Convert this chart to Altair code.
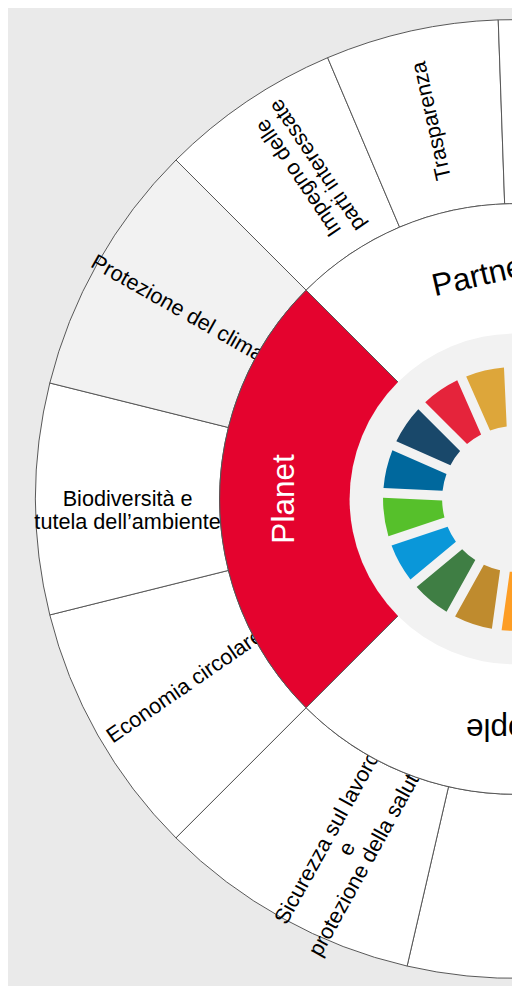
import math
import altair as alt
import pandas as pd

# ---------------- data ----------------
pillar_names = ["Planet", "Partnership", "Prosperity", "Peace", "People"]
pillar_spans = [90, 88, 47, 45, 90]          # degrees of the wheel

topic_labels = [
    "Economia circolare",
    "Biodiversità e\ntutela dell’ambiente",
    "Protezione del clima",
    "Impegno delle\nparti interessate",
    "Trasparenza",
    "Compliance e\nanticorruzione",
    "Creazione di\nvalore",
    "Innovazione",
    "Etica e\nintegrità",
    "Diritti umani",
    "Diversità e\ninclusione",
    "Sicurezza sul lavoro\ne\nprotezione della salute",
]
topic_parent = ["Planet", "Planet", "Planet",
                "Partnership", "Partnership", "Partnership",
                "Prosperity", "Prosperity",
                "Peace", "Peace",
                "People", "People"]
topic_spans = [31, 28, 31, 22, 21, 45, 23.5, 23.5, 22.5, 22.5, 58, 32]

sdg_goals = list(range(1, 18))
sdg_colors = ["#E5243B", "#DDA63A", "#4C9F38", "#C5192D", "#FF3A21", "#26BDE2",
              "#FCC30B", "#A21942", "#FD6925", "#DD1367", "#FD9D24", "#BF8B2E",
              "#3F7E44", "#0A97D9", "#56C02B", "#00689D", "#19486A"]

# ---------------- layout ----------------
START = 225.0          # wheel starts at the Planet / People boundary
W, H = 512, 978
CX, CY = 515, 491
R_OUT, R_MID, R_IN, R_DISC = 487, 300, 150, 168
SDG_R1, SDG_R0 = 134, 74
SDG_START = 315.0
MID_LABEL_TILT = {"Partnership": -12}          # extra label rotation (style)
OUTER_LABEL_TILT = {"Economia circolare": -5}  # extra label rotation (style)
OUTER_LABEL_SHIFT = {"Economia circolare": -8}  # radial nudge (style)


def spans_to_angles(spans, start):
    a0, a1, acc = [], [], start
    for s in spans:
        a0.append(acc)
        acc += s
        a1.append(acc)
    return a0, a1


def lookup_expr(field, mapping):
    parts = [f"datum.{field} === '{k}' ? {v}" for k, v in mapping.items()]
    return "(" + " : ".join(parts + ["0"]) + ")"


p0, p1 = spans_to_angles(pillar_spans, START)
pillars = pd.DataFrame({"pillar": pillar_names, "a0": p0, "a1": p1})

t0, t1 = spans_to_angles(topic_spans, START)
topics = pd.DataFrame({"topic": topic_labels, "parent": topic_parent, "a0": t0, "a1": t1})

step = 360 / len(sdg_goals)
s0 = [SDG_START + i * step for i in range(len(sdg_goals))]
sdg = pd.DataFrame({"goal": sdg_goals, "a0": s0, "a1": [a + step for a in s0]})

rad = "datum.a0 * PI / 180"
rad2 = "datum.a1 * PI / 180"
mid = "(((datum.a0 + datum.a1) / 2) % 360)"

theta = alt.Theta("t0:Q", scale=None)
theta2 = alt.Theta2("t1:Q")
cx = alt.value(CX)
cy = alt.value(CY)
STROKE = "#555555"
FONT = "Liberation Sans"

outer_ring = alt.Chart(topics).transform_calculate(t0=rad, t1=rad2).mark_arc(
    radius=R_OUT, radius2=R_MID, stroke=STROKE, strokeWidth=1
).encode(
    theta=theta, theta2=theta2, x=cx, y=cy,
    fill=alt.condition(alt.datum.topic == "Protezione del clima",
                       alt.value("#F2F2F2"), alt.value("#FFFFFF")),
)

r_txt_out = (R_OUT + R_MID) / 2
outer_text = alt.Chart(topics).transform_calculate(
    m=mid,
    rr=f"{r_txt_out} + {lookup_expr('topic', OUTER_LABEL_SHIFT)}",
).transform_calculate(
    tx=f"{CX} + datum.rr * sin(datum.m * PI / 180)",
    ty=f"{CY} - datum.rr * cos(datum.m * PI / 180)",
    rot="datum.m >= 180 && datum.m < 315 ? datum.m - 270 : (datum.m >= 315 ? datum.m - 450 : datum.m - 90)",
).transform_calculate(
    rot2=f"(((datum.rot + {lookup_expr('topic', OUTER_LABEL_TILT)}) % 360) + 360) % 360"
).mark_text(
    font=FONT, fontSize=22, lineHeight=23, lineBreak="\n",
    align="center", baseline="middle", color="#000000"
).encode(
    x=alt.X("tx:Q", scale=None, axis=None),
    y=alt.Y("ty:Q", scale=None, axis=None),
    angle=alt.Angle("rot2:Q", scale=None),
    text="topic:N",
)

mid_ring = alt.Chart(pillars).transform_calculate(t0=rad, t1=rad2).mark_arc(
    radius=R_MID, radius2=R_IN, stroke=STROKE, strokeWidth=1
).encode(
    theta=theta, theta2=theta2, x=cx, y=cy,
    fill=alt.Fill("pillar:N", legend=None,
                  scale=alt.Scale(domain=pillar_names,
                                  range=["#E4032E", "#FFFFFF", "#FFFFFF", "#FFFFFF", "#FFFFFF"])),
)

disc = alt.Chart(pd.DataFrame({"t0": [0.0], "t1": [2 * math.pi]})).mark_arc(
    radius=R_DISC, color="#F2F2F2"
).encode(theta=theta, theta2=theta2, x=cx, y=cy)

sdg_ring = alt.Chart(sdg).transform_calculate(t0=rad, t1=rad2).mark_arc(
    radius=SDG_R1, radius2=SDG_R0, padAngle=0.065
).encode(
    theta=theta, theta2=theta2, x=cx, y=cy,
    fill=alt.Fill("goal:O", legend=None,
                  scale=alt.Scale(domain=sdg_goals, range=sdg_colors)),
)

r_txt_mid = (R_DISC + R_MID) / 2
mid_text = alt.Chart(pillars).transform_calculate(
    m=mid
).transform_calculate(
    tx=f"{CX} + {r_txt_mid} * sin(datum.m * PI / 180)",
    ty=f"{CY} - {r_txt_mid} * cos(datum.m * PI / 180)",
    rot=f"(((datum.m + {lookup_expr('pillar', MID_LABEL_TILT)}) % 360) + 360) % 360",
).mark_text(
    font=FONT, fontSize=32, align="center", baseline="middle"
).encode(
    x=alt.X("tx:Q", scale=None, axis=None),
    y=alt.Y("ty:Q", scale=None, axis=None),
    angle=alt.Angle("rot:Q", scale=None),
    text="pillar:N",
    color=alt.Color("pillar:N", legend=None,
                    scale=alt.Scale(domain=pillar_names,
                                    range=["#FFFFFF", "#000000", "#000000", "#000000", "#000000"])),
)

chart = alt.layer(
    outer_ring, outer_text, mid_ring, disc, sdg_ring, mid_text
).resolve_scale(
    fill="independent", color="independent"
).properties(
    width=W, height=H, padding=0,
    autosize=alt.AutoSizeParams(type="none"),
    background="#EAEAEA",
).configure_view(stroke=None)

chart.save("out.html", embed_options={"renderer": "svg", "actions": False})
